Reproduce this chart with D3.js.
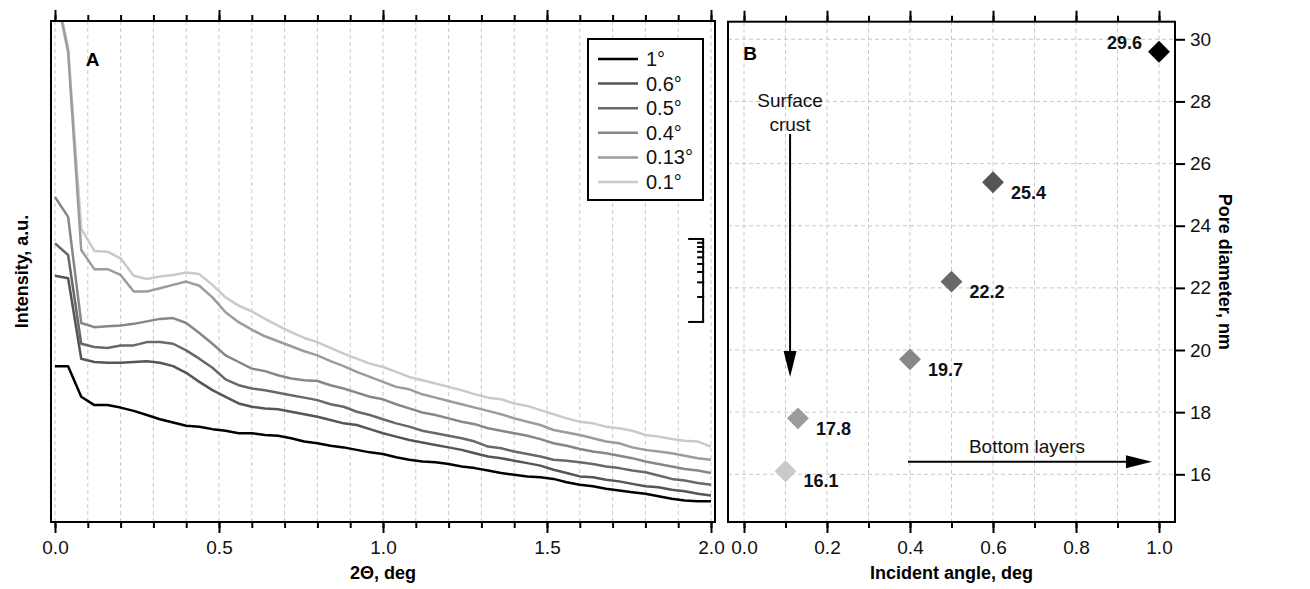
<!DOCTYPE html>
<html>
<head>
<meta charset="utf-8">
<script src="https://cdn.jsdelivr.net/npm/d3@7/dist/d3.min.js"></script>
<style>
  html, body { margin: 0; padding: 0; background: #fff; }
  svg { display: block; font-family: "Liberation Sans", Arial, sans-serif; }
</style>
</head>
<body>
<svg id="chart" width="1310" height="589"></svg>
<script>
// ---------- Panel A: GI-SAXS intensity profiles (log10 of intensity, a.u.) ----------
const twoTheta = [0.00,0.04,0.08,0.12,0.16,0.20,0.24,0.28,0.32,0.36,0.40,0.44,0.48,0.52,0.56,0.60,0.64,0.68,0.72,0.76,
  0.80,0.84,0.88,0.92,0.96,1.00,1.04,1.08,1.12,1.16,1.20,1.24,1.28,1.32,1.36,1.40,1.44,1.48,1.52,1.56,
  1.60,1.64,1.68,1.72,1.76,1.80,1.84,1.88,1.92,1.96,2.00];

const logI_1deg = [1.88,1.88,1.51,1.41,1.41,1.38,1.34,1.29,1.24,1.20,1.16,1.15,1.12,1.10,1.07,1.07,1.05,1.04,1.01,0.97,
  0.95,0.92,0.90,0.87,0.84,0.82,0.78,0.75,0.73,0.72,0.70,0.67,0.65,0.62,0.59,0.57,0.55,0.54,0.52,0.48,
  0.45,0.43,0.40,0.38,0.36,0.34,0.31,0.28,0.26,0.25,0.25];
const logI_06deg = [2.97,2.94,1.97,1.93,1.92,1.92,1.93,1.94,1.92,1.88,1.80,1.69,1.59,1.51,1.43,1.39,1.37,1.36,1.33,1.30,
  1.27,1.23,1.19,1.17,1.12,1.07,1.03,0.99,0.96,0.93,0.90,0.87,0.83,0.79,0.77,0.74,0.71,0.68,0.63,0.59,
  0.55,0.54,0.51,0.49,0.46,0.43,0.42,0.39,0.37,0.34,0.32];
const logI_05deg = [3.36,3.22,2.15,2.11,2.10,2.13,2.13,2.17,2.17,2.15,2.07,1.97,1.86,1.72,1.65,1.61,1.59,1.56,1.53,1.50,
  1.47,1.42,1.39,1.33,1.29,1.24,1.19,1.15,1.10,1.07,1.04,1.01,0.97,0.91,0.89,0.85,0.82,0.79,0.75,0.74,
  0.72,0.70,0.67,0.65,0.62,0.60,0.56,0.52,0.50,0.47,0.45];
const logI_04deg = [3.92,3.68,2.40,2.35,2.36,2.37,2.39,2.42,2.45,2.46,2.40,2.28,2.15,2.01,1.93,1.85,1.82,1.77,1.73,1.71,
  1.70,1.65,1.61,1.56,1.51,1.48,1.42,1.37,1.32,1.29,1.25,1.21,1.18,1.13,1.10,1.07,1.04,1.00,0.95,0.92,
  0.88,0.85,0.83,0.80,0.77,0.73,0.70,0.67,0.64,0.62,0.59];
const logI_013deg = [6.44,5.67,3.28,3.05,3.05,2.98,2.78,2.78,2.82,2.86,2.90,2.85,2.71,2.53,2.41,2.32,2.24,2.18,2.12,2.06,
  2.01,1.94,1.88,1.81,1.75,1.69,1.63,1.60,1.54,1.50,1.46,1.42,1.38,1.34,1.30,1.25,1.21,1.17,1.11,1.08,
  1.05,1.01,0.97,0.95,0.90,0.87,0.85,0.83,0.80,0.77,0.75];
const logI_01deg = [6.48,5.72,3.54,3.27,3.26,3.18,2.97,2.93,2.96,2.98,3.01,2.99,2.86,2.71,2.61,2.54,2.45,2.37,2.29,2.22,
  2.17,2.10,2.03,1.97,1.91,1.87,1.81,1.75,1.71,1.67,1.63,1.59,1.54,1.50,1.48,1.43,1.40,1.35,1.30,1.25,
  1.21,1.19,1.15,1.13,1.10,1.05,1.03,1.00,0.98,0.97,0.91];

const seriesLabels = ["1°", "0.6°", "0.5°", "0.4°", "0.13°", "0.1°"];
const seriesColors = ["#000000", "#555555", "#686868", "#878787", "#9c9c9c", "#cacaca"];
const seriesValues = [logI_1deg, logI_06deg, logI_05deg, logI_04deg, logI_013deg, logI_01deg];

const axisTicksA = [0, 0.5, 1.0, 1.5, 2.0];
const minorTicksA = [0,0.1,0.2,0.3,0.4,0.5,0.6,0.7,0.8,0.9,1.0,1.1,1.2,1.3,1.4,1.5,1.6,1.7,1.8,1.9,2.0];

// ---------- Panel B: pore diameter vs incident angle ----------
const incidentAngle = [1.0, 0.6, 0.5, 0.4, 0.13, 0.1];
const poreDiameter = [29.6, 25.4, 22.2, 19.7, 17.8, 16.1];
const axisTicksBx = [0, 0.2, 0.4, 0.6, 0.8, 1.0];
const minorTicksBx = [0,0.1,0.2,0.3,0.4,0.5,0.6,0.7,0.8,0.9,1.0];
const axisTicksBy = [16, 18, 20, 22, 24, 26, 28, 30];

const svg = d3.select("#chart");
const FONT_TICK = 19, FONT_TITLE = 18;

// ===== Panel A =====
const A = { left: 51, right: 715, top: 21, bottom: 522 };
const xA = d3.scaleLinear().domain([0, 2]).range([55, 711]);
const yA = d3.scaleLinear().domain([0, 6.043]).range([A.bottom, A.top]);

svg.append("defs").append("clipPath").attr("id", "clipA")
  .append("rect").attr("x", A.left).attr("y", A.top)
  .attr("width", A.right - A.left).attr("height", A.bottom - A.top);

// vertical dashed grid
svg.append("g").selectAll("line").data(minorTicksA).join("line")
  .attr("x1", d => xA(d)).attr("x2", d => xA(d))
  .attr("y1", A.top).attr("y2", A.bottom)
  .attr("stroke", "#c8c8c8").attr("stroke-width", 1).attr("stroke-dasharray", "4,3");

function styleAxis(g) {
  g.select(".domain").remove();
  g.selectAll(".tick line").attr("stroke", "#000").attr("stroke-width", 2);
  g.selectAll(".tick text").attr("font-size", FONT_TICK).attr("fill", "#111")
    .attr("font-family", "'Liberation Sans', Arial, sans-serif");
}

// bottom + top ticks
svg.append("g").attr("transform", `translate(0,${A.bottom})`)
  .call(d3.axisBottom(xA).tickValues(minorTicksA).tickSize(6).tickFormat("")).call(styleAxis);
svg.append("g").attr("transform", `translate(0,${A.bottom})`)
  .call(d3.axisBottom(xA).tickValues(axisTicksA).tickSize(11).tickPadding(8).tickFormat(d3.format(".1f"))).call(styleAxis);
svg.append("g").attr("transform", `translate(0,${A.top})`)
  .call(d3.axisTop(xA).tickValues(minorTicksA).tickSize(6).tickFormat("")).call(styleAxis);
svg.append("g").attr("transform", `translate(0,${A.top})`)
  .call(d3.axisTop(xA).tickValues(axisTicksA).tickSize(11).tickFormat("")).call(styleAxis);

// curves
const lineA = d3.line().x((d, i) => xA(twoTheta[i])).y(d => yA(d));
const curves = svg.append("g").attr("clip-path", "url(#clipA)");
seriesValues.slice().reverse().forEach((vals, j) => {
  const i = seriesValues.length - 1 - j;
  curves.append("path").datum(vals).attr("d", lineA)
    .attr("fill", "none").attr("stroke", seriesColors[i])
    .attr("stroke-width", 2.5).attr("stroke-linejoin", "round");
});

// frame
svg.append("rect").attr("x", A.left).attr("y", A.top)
  .attr("width", A.right - A.left).attr("height", A.bottom - A.top)
  .attr("fill", "none").attr("stroke", "#000").attr("stroke-width", 2);

// one-decade scale bar
const decade = d3.scaleLog().domain([1, 10]).range([yA(2.413), yA(3.414)]);
const barX = xA(1.976);
const bar = svg.append("g");
bar.append("line").attr("x1", barX).attr("x2", barX)
  .attr("y1", decade(1)).attr("y2", decade(10)).attr("stroke", "#000").attr("stroke-width", 2);
bar.selectAll("line.t").data([1,2,3,4,5,6,7,8,9,10]).join("line").attr("class", "t")
  .attr("x1", d => (d === 1 || d === 10) ? barX - 15 : barX - 6).attr("x2", barX + 1)
  .attr("y1", d => decade(d)).attr("y2", d => decade(d))
  .attr("stroke", "#000").attr("stroke-width", 2);

// legend
const lg = svg.append("g");
lg.append("rect").attr("x", 588).attr("y", 39).attr("width", 115).attr("height", 161)
  .attr("fill", "#fff").attr("stroke", "#000").attr("stroke-width", 2);
seriesLabels.forEach((lab, i) => {
  const y = 59 + i * 24.6;
  lg.append("line").attr("x1", 598).attr("x2", 638).attr("y1", y).attr("y2", y)
    .attr("stroke", seriesColors[i]).attr("stroke-width", 2.5);
  lg.append("text").attr("x", 646).attr("y", y).attr("dy", "0.35em")
    .attr("font-size", 20).attr("fill", "#111").text(lab);
});

svg.append("text").attr("x", 92.5).attr("y", 59).attr("dy", "0.35em").attr("text-anchor", "middle")
  .attr("font-size", 19).attr("font-weight", "bold").text("A");
svg.append("text").attr("x", xA(1)).attr("y", 573).attr("dy", "0.35em").attr("text-anchor", "middle")
  .attr("font-size", FONT_TITLE).attr("font-weight", "bold").text("2Θ, deg");
svg.append("text").attr("transform", `translate(22,${(A.top + A.bottom) / 2}) rotate(-90)`)
  .attr("dy", "0.35em").attr("text-anchor", "middle")
  .attr("font-size", FONT_TITLE).attr("font-weight", "bold").text("Intensity, a.u.");

// ===== Panel B =====
const B = { left: 728, right: 1175, top: 21.7, bottom: 522 };
const xB = d3.scaleLinear().domain([0, 1]).range([744, 1159]);
const yB = d3.scaleLinear().domain([16, 30]).range([474.3, 39.3]);

const gridB = svg.append("g").attr("stroke", "#c8c8c8").attr("stroke-width", 1).attr("stroke-dasharray", "4,3");
gridB.selectAll("line.v").data(minorTicksBx).join("line").attr("class", "v")
  .attr("x1", d => xB(d)).attr("x2", d => xB(d)).attr("y1", B.top).attr("y2", B.bottom);
gridB.selectAll("line.h").data(axisTicksBy).join("line").attr("class", "h")
  .attr("x1", B.left).attr("x2", B.right).attr("y1", d => yB(d)).attr("y2", d => yB(d));

svg.append("g").attr("transform", `translate(0,${B.bottom})`)
  .call(d3.axisBottom(xB).tickValues(minorTicksBx).tickSize(6).tickFormat("")).call(styleAxis);
svg.append("g").attr("transform", `translate(0,${B.bottom})`)
  .call(d3.axisBottom(xB).tickValues(axisTicksBx).tickSize(11).tickPadding(8).tickFormat(d3.format(".1f"))).call(styleAxis);
svg.append("g").attr("transform", `translate(0,${B.top})`)
  .call(d3.axisTop(xB).tickValues(minorTicksBx).tickSize(6).tickFormat("")).call(styleAxis);
svg.append("g").attr("transform", `translate(0,${B.top})`)
  .call(d3.axisTop(xB).tickValues(axisTicksBx).tickSize(11).tickFormat("")).call(styleAxis);
svg.append("g").attr("transform", `translate(${B.right},0)`)
  .call(d3.axisRight(yB).tickValues(axisTicksBy).tickSize(10).tickPadding(5)).call(styleAxis);

svg.append("rect").attr("x", B.left).attr("y", B.top)
  .attr("width", B.right - B.left).attr("height", B.bottom - B.top)
  .attr("fill", "none").attr("stroke", "#000").attr("stroke-width", 2);

// annotations
svg.append("text").attr("x", 750).attr("y", 53.5).attr("dy", "0.35em").attr("text-anchor", "middle")
  .attr("font-size", 19).attr("font-weight", "bold").text("B");

const ann = svg.append("g").attr("font-size", 19).attr("fill", "#111").attr("text-anchor", "middle");
ann.append("text").attr("x", xB(0.111)).attr("y", yB(28.05)).attr("dy", "0.35em").text("Surface");
ann.append("text").attr("x", xB(0.111)).attr("y", yB(27.27)).attr("dy", "0.35em").text("crust");
ann.append("text").attr("x", xB(0.682)).attr("y", yB(16.91)).attr("dy", "0.35em").text("Bottom layers");

function arrow(x1, y1, x2, y2) {
  const len = Math.hypot(x2 - x1, y2 - y1), ux = (x2 - x1) / len, uy = (y2 - y1) / len;
  const hl = 26, hw = 6.5;
  const bx = x2 - ux * hl, by = y2 - uy * hl;
  svg.append("line").attr("x1", x1).attr("y1", y1).attr("x2", bx).attr("y2", by)
    .attr("stroke", "#000").attr("stroke-width", 2);
  svg.append("path")
    .attr("d", `M${x2},${y2}L${bx - uy * hw},${by + ux * hw}L${bx + uy * hw},${by - ux * hw}Z`)
    .attr("fill", "#000");
}
arrow(xB(0.111), yB(26.95), xB(0.111), yB(19.13));
arrow(xB(0.395), yB(16.40), xB(0.983), yB(16.40));

// markers and value labels
const diamond = d3.symbol(d3.symbolSquare, 240);
const pts = svg.append("g");
incidentAngle.forEach((a, i) => {
  pts.append("path").attr("d", diamond)
    .attr("transform", `translate(${xB(a)},${yB(poreDiameter[i])}) rotate(45)`)
    .attr("fill", seriesColors[i]);
  const left = i === 0;
  pts.append("text")
    .attr("x", xB(a) + (left ? -17 : 18))
    .attr("y", yB(poreDiameter[i]) + (left ? -9 : 10))
    .attr("dy", "0.35em").attr("text-anchor", left ? "end" : "start")
    .attr("font-size", FONT_TITLE).attr("font-weight", "bold").attr("fill", "#111")
    .text(poreDiameter[i].toFixed(1));
});

svg.append("text").attr("x", xB(0.5)).attr("y", 573).attr("dy", "0.35em").attr("text-anchor", "middle")
  .attr("font-size", FONT_TITLE).attr("font-weight", "bold").text("Incident angle, deg");
svg.append("text").attr("transform", `translate(1225,${(B.top + B.bottom) / 2}) rotate(90)`)
  .attr("dy", "0.35em").attr("text-anchor", "middle")
  .attr("font-size", FONT_TITLE).attr("font-weight", "bold").text("Pore diameter, nm");
</script>
</body>
</html>
